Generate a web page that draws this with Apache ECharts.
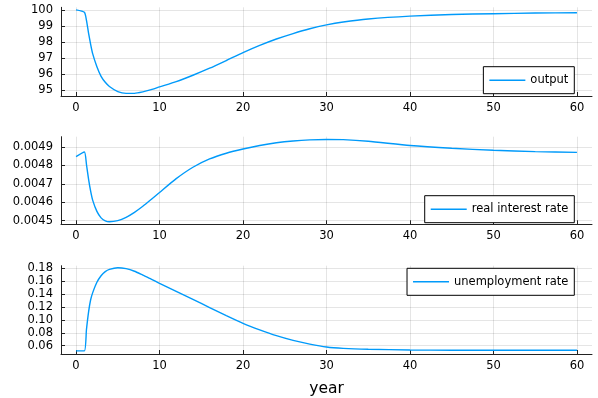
<!DOCTYPE html>
<html>
<head>
<meta charset="utf-8">
<script src="https://cdn.jsdelivr.net/npm/echarts@6/dist/echarts.min.js"></script>
<style>
  html, body { margin: 0; padding: 0; background: #fff; }
  #chart { width: 598px; height: 398px; }
</style>
</head>
<body>
<div id="chart"></div>
<script>
// Impulse responses after a shock, three stacked panels sharing the year axis.
const years = [0, 1, 1.25, 1.5, 1.75, 2, 2.5, 3, 3.5, 4, 5, 6, 7, 8, 9, 10, 12, 14, 16, 18, 20,
  22, 24, 26, 28, 30, 32, 35, 40, 45, 50, 55, 60];

const outputValues = [100, 99.85, 99.35, 98.55, 97.85, 97.25, 96.45, 95.85, 95.48, 95.22, 94.9,
  94.79, 94.79, 94.88, 95.02, 95.19, 95.52, 95.92, 96.36, 96.84, 97.33, 97.78, 98.18, 98.52, 98.82,
  99.06, 99.24, 99.43, 99.61, 99.71, 99.76, 99.8, 99.82];

const realRateValues = [0.004848, 0.004873, 0.004805, 0.004725, 0.00466, 0.00461, 0.00455,
  0.004515, 0.004499, 0.004494, 0.0045, 0.004518, 0.004545, 0.004578, 0.004615, 0.004653,
  0.004728, 0.00479, 0.004835, 0.004866, 0.004889, 0.004908, 0.004923, 0.004933, 0.004939,
  0.004941, 0.00494, 0.004931, 0.004908, 0.004893, 0.004882, 0.004875, 0.004871];

const unemploymentValues = [0.052, 0.052, 0.085, 0.112, 0.131, 0.142, 0.158, 0.168, 0.1745,
  0.178, 0.1805, 0.179, 0.175, 0.169, 0.163, 0.1563, 0.144, 0.1316, 0.119, 0.1065, 0.0946,
  0.0845, 0.0755, 0.0682, 0.0625, 0.0580, 0.0559, 0.0545, 0.0534, 0.0531, 0.053, 0.053, 0.053];

const xTicks = [0, 10, 20, 30, 40, 50, 60];
const outputTicks = [95, 96, 97, 98, 99, 100];
const realRateTicks = [0.0045, 0.0046, 0.0047, 0.0048, 0.0049];
const unemploymentTicks = [0.06, 0.08, 0.10, 0.12, 0.14, 0.16, 0.18];

const seriesNames = ['output', 'real interest rate', 'unemployment rate'];

const FONT = 'DejaVu Sans';
const LINE_COLOR = '#009AFA';
const AXIS_COLOR = '#222';
const GRID_COLOR = 'rgba(0,0,0,0.1)';

const grids = [
  { left: 61, width: 531, top: 7.3, height: 88.7 },
  { left: 61, width: 531, top: 136.7, height: 87.6 },
  { left: 61, width: 531, top: 265.7, height: 88.3 }
];

function makeXAxis(i) {
  const ax = {
    type: 'value', gridIndex: i, min: -1.8, max: 61.8,
    axisLine: { show: true, onZero: false, lineStyle: { color: AXIS_COLOR, width: 1 } },
    axisTick: { show: true, inside: true, length: 4, customValues: xTicks,
      lineStyle: { color: AXIS_COLOR, width: 1 } },
    axisLabel: { customValues: xTicks, color: '#000', fontFamily: FONT, fontSize: 11.5, margin: 6 },
    splitLine: { show: true, lineStyle: { color: GRID_COLOR, width: 1 } }
  };
  if (i === 2) {
    ax.name = 'year';
    ax.nameLocation = 'middle';
    ax.nameGap = 27;
    ax.nameTextStyle = { color: '#000', fontFamily: FONT, fontSize: 15.5 };
  }
  return ax;
}

function makeYAxis(i, min, max, ticks, fmt) {
  return {
    type: 'value', gridIndex: i, min: min, max: max,
    axisLine: { show: true, onZero: false, lineStyle: { color: AXIS_COLOR, width: 1 } },
    axisTick: { show: true, inside: true, length: 4, customValues: ticks,
      lineStyle: { color: AXIS_COLOR, width: 1 } },
    axisLabel: { customValues: ticks, color: '#000', fontFamily: FONT, fontSize: 11.5, margin: 8,
      formatter: fmt },
    splitLine: { show: true, lineStyle: { color: GRID_COLOR, width: 1 } }
  };
}

function pairs(values) {
  return years.map((t, k) => [t, values[k]]);
}

// Each panel gets its own boxed legend showing only a line sample.
function makeLegend(name, right, top) {
  return {
    data: [name], right: right, top: top, orient: 'horizontal',
    icon: 'rect', itemWidth: 36, itemHeight: 1.5, itemGap: 0,
    backgroundColor: '#fff', borderColor: '#000', borderWidth: 1,
    padding: [6, 6, 6, 6],
    textStyle: { color: '#000', fontFamily: FONT, fontSize: 11.5, lineHeight: 15 }
  };
}

const chart = echarts.init(document.getElementById('chart'), null, { renderer: 'canvas' });

chart.setOption({
  animation: false,
  backgroundColor: '#fff',
  grid: grids,
  xAxis: [makeXAxis(0), makeXAxis(1), makeXAxis(2)],
  yAxis: [
    makeYAxis(0, 94.625, 100.16, outputTicks, v => String(v)),
    makeYAxis(1, 0.00448, 0.004956, realRateTicks, v => v.toFixed(4)),
    makeYAxis(2, 0.0472, 0.1836, unemploymentTicks, v => v.toFixed(2))
  ],
  legend: [
    makeLegend(seriesNames[0], 23.7, 66.7),
    makeLegend(seriesNames[1], 23.7, 195.7),
    makeLegend(seriesNames[2], 23.7, 268.3)
  ],
  series: [
    { name: seriesNames[0], type: 'line', xAxisIndex: 0, yAxisIndex: 0, data: pairs(outputValues) },
    { name: seriesNames[1], type: 'line', xAxisIndex: 1, yAxisIndex: 1, data: pairs(realRateValues) },
    { name: seriesNames[2], type: 'line', xAxisIndex: 2, yAxisIndex: 2, data: pairs(unemploymentValues) }
  ].map(s => Object.assign(s, {
    symbol: 'none', smooth: 0.2, color: LINE_COLOR,
    lineStyle: { color: LINE_COLOR, width: 1.4 }
  }))
});
</script>
</body>
</html>
